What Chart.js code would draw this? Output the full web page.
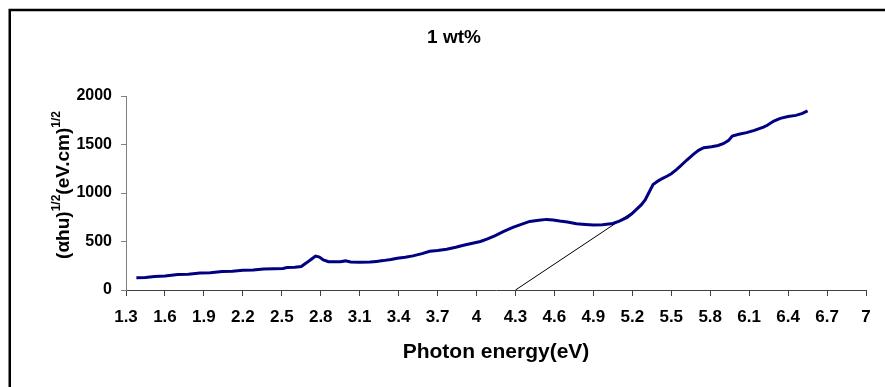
<!DOCTYPE html>
<html>
<head>
<meta charset="utf-8">
<script src="https://cdn.jsdelivr.net/npm/chart.js@4/dist/chart.umd.min.js"></script>
<style>
  html, body { margin: 0; padding: 0; background: #fff; }
  #wrap { width: 885px; height: 387px; }
</style>
</head>
<body>
<div id="wrap"><canvas id="c" width="885" height="387"></canvas></div>
<script>
// ---- data ----
const chartTitle = "1 wt%";
const xTitle = "Photon energy(eV)";
const energy = [1.38,1.45,1.52,1.60,1.70,1.78,1.87,1.95,2.04,2.12,2.20,2.28,2.36,2.44,2.51,2.54,2.60,2.65,2.69,2.73,2.76,2.79,2.82,2.86,2.90,2.95,2.99,3.03,3.10,3.18,3.23,3.28,3.34,3.39,3.45,3.51,3.58,3.64,3.70,3.77,3.84,3.90,3.96,4.03,4.08,4.14,4.21,4.28,4.35,4.41,4.48,4.54,4.59,4.64,4.70,4.77,4.84,4.90,4.97,5.05,5.10,5.16,5.20,5.23,5.27,5.30,5.33,5.36,5.40,5.43,5.47,5.50,5.54,5.57,5.62,5.67,5.71,5.75,5.81,5.86,5.90,5.94,5.97,6.02,6.08,6.14,6.21,6.24,6.29,6.34,6.40,6.46,6.51,6.55];
const absorption = [127,128,140,145,160,163,175,178,190,193,204,207,217,219,222,231,235,242,280,320,350,340,310,292,290,291,300,288,287,288,295,303,315,328,338,352,375,400,408,421,440,462,480,500,525,559,605,645,680,707,718,728,722,711,700,683,676,670,672,686,710,749,790,828,880,932,1010,1087,1125,1149,1175,1198,1240,1277,1340,1398,1440,1467,1477,1490,1508,1540,1587,1605,1622,1645,1680,1698,1742,1770,1788,1800,1820,1846];
const tangentX = [4.3, 5.22];
const tangentY = [0, 820];
const xTicks = [1.3,1.6,1.9,2.2,2.5,2.8,3.1,3.4,3.7,4,4.3,4.6,4.9,5.2,5.5,5.8,6.1,6.4,6.7,7];
const yTicks = [0,500,1000,1500,2000];

const FONT = "'Liberation Sans', Arial, sans-serif";

const curvePoints = energy.map((e, i) => ({x: e, y: absorption[i]}));
const tangentPoints = tangentX.map((e, i) => ({x: e, y: tangentY[i]}));

const framePlugin = {
  id: 'frame',
  beforeDraw(chart) {
    const ctx = chart.ctx;
    ctx.save();
    ctx.fillStyle = '#fff';
    ctx.fillRect(0, 0, chart.width, chart.height);
    ctx.strokeStyle = '#000';
    ctx.lineWidth = 2.5;
    ctx.strokeRect(9.75, 10, 920, 420);
    ctx.restore();
  },
  afterDraw(chart) {
    const ctx = chart.ctx;
    ctx.save();
    // chart title
    ctx.fillStyle = '#000';
    ctx.font = "bold 19px " + FONT;
    ctx.textAlign = 'center';
    ctx.textBaseline = 'middle';
    ctx.fillText(chartTitle, 454, 38);
    // y-axis title with superscripts
    const parts = [
      {t: "(\u03b1hu)", sup: false},
      {t: "1/2", sup: true},
      {t: "(eV.cm)", sup: false},
      {t: "1/2", sup: true}
    ];
    const mainFont = "bold 19px " + FONT;
    const supFont = "bold 12px " + FONT;
    let total = 0;
    parts.forEach(p => { ctx.font = p.sup ? supFont : mainFont; p.w = ctx.measureText(p.t).width; total += p.w; });
    ctx.translate(69, 185);
    ctx.rotate(-Math.PI / 2);
    ctx.textAlign = 'left';
    ctx.textBaseline = 'alphabetic';
    let x = -total / 2;
    parts.forEach(p => {
      ctx.font = p.sup ? supFont : mainFont;
      ctx.fillText(p.t, x, p.sup ? -9 : 0);
      x += p.w;
    });
    ctx.restore();
  }
};

new Chart(document.getElementById('c'), {
  type: 'scatter',
  data: {
    datasets: [
      {
        data: curvePoints,
        showLine: true,
        borderColor: '#000080',
        borderWidth: 3,
        pointRadius: 0,
        tension: 0,
        order: 1
      },
      {
        data: tangentPoints,
        showLine: true,
        borderColor: '#000000',
        borderWidth: 1,
        pointRadius: 0,
        tension: 0,
        order: 2
      }
    ]
  },
  options: {
    responsive: false,
    animation: false,
    layout: { padding: { left: 0, top: 96, right: 19, bottom: 18 } },
    plugins: { legend: { display: false }, tooltip: { enabled: false }, title: { display: false } },
    scales: {
      x: {
        type: 'linear',
        min: 1.3,
        max: 7,
        afterBuildTicks: (scale) => { scale.ticks = xTicks.map(v => ({value: v})); },
        afterFit: (scale) => { scale.height = 79; },
        grid: { drawOnChartArea: false, drawTicks: true, tickLength: 6, color: '#404040' },
        border: { color: '#404040', width: 1 },
        ticks: {
          color: '#000',
          font: { family: FONT, size: 17, weight: 'bold' },
          padding: 11,
          maxRotation: 0,
          autoSkip: false,
          callback: (v) => String(v)
        },
        title: {
          display: true,
          text: xTitle,
          color: '#000',
          font: { family: FONT, size: 21, weight: 'bold' },
          padding: { top: 4, bottom: 4 }
        }
      },
      y: {
        type: 'linear',
        min: 0,
        max: 2000,
        afterBuildTicks: (scale) => { scale.ticks = yTicks.map(v => ({value: v})); },
        afterFit: (scale) => { scale.width = 126; },
        grid: { drawOnChartArea: false, drawTicks: true, tickLength: 5, color: '#808080' },
        border: { color: '#808080', width: 1 },
        ticks: {
          color: '#000',
          font: { family: FONT, size: 16, weight: 'bold' },
          padding: 9,
          callback: (v) => String(v)
        }
      }
    }
  },
  plugins: [framePlugin]
});
</script>
</body>
</html>
